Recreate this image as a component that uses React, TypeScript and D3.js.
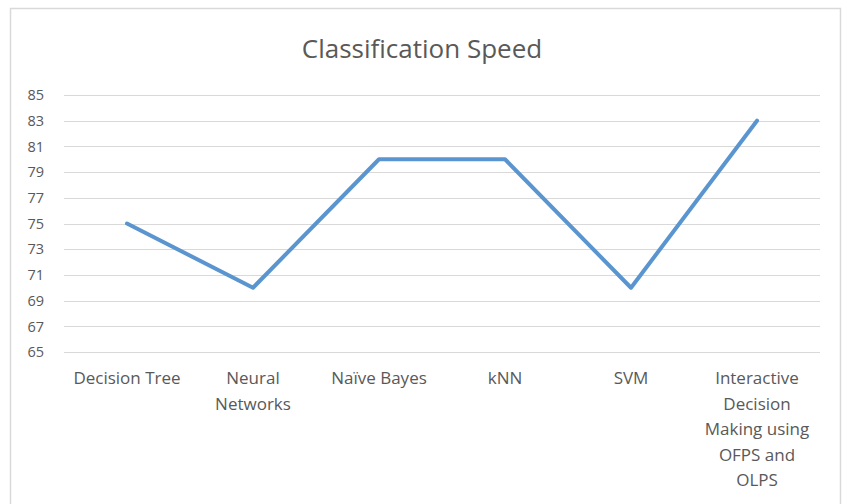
import React from "react";
import * as d3 from "d3";

const categories = [
  ["Decision Tree"],
  ["Neural", "Networks"],
  ["Naïve Bayes"],
  ["kNN"],
  ["SVM"],
  ["Interactive", "Decision", "Making using", "OFPS and", "OLPS"],
];
const speedValues = [75, 70, 80, 80, 70, 83];
const yTicks = [65, 67, 69, 71, 73, 75, 77, 79, 81, 83, 85];
const chartTitle = "Classification Speed";

const W = 844;
const H = 504;
const FONT = "'Open Sans', 'Noto Sans', sans-serif";

export default function App() {
  const left = 64;
  const right = 820;
  const top = 95;
  const bottom = 352;

  const x = d3
    .scaleBand<number>()
    .domain(d3.range(categories.length))
    .range([left, right]);
  const y = d3.scaleLinear().domain([65, 85]).range([bottom, top]);

  const line = d3
    .line<number>()
    .x((_, i) => (x(i) as number) + x.bandwidth() / 2)
    .y((v) => y(v));

  return (
    <svg
      width={W}
      height={H}
      style={{ position: "absolute", left: 0, top: 0, background: "#fff" }}
    >
      <rect
        x={10.5}
        y={8.5}
        width={830}
        height={H}
        fill="#fff"
        stroke="#d9d9d9"
        strokeWidth={1.5}
      />
      <text
        x={422}
        y={58}
        textAnchor="middle"
        fontFamily={FONT}
        fontSize={26}
        fill="#595959"
      >
        {chartTitle}
      </text>
      {yTicks.map((t) => (
        <g key={t}>
          <line
            x1={left}
            x2={right}
            y1={Math.round(y(t)) + 0.5}
            y2={Math.round(y(t)) + 0.5}
            stroke="#d9d9d9"
            strokeWidth={1}
          />
          <text
            x={44}
            y={y(t)}
            dy="0.36em"
            textAnchor="end"
            fontFamily={FONT}
            fontSize={14.5}
            fill="#595959"
          >
            {t}
          </text>
        </g>
      ))}
      <path
        d={line(speedValues) ?? ""}
        fill="none"
        stroke="#5b95cf"
        strokeWidth={4}
        strokeLinejoin="round"
        strokeLinecap="round"
      />
      {categories.map((lines, i) => (
        <text
          key={i}
          x={(x(i) as number) + x.bandwidth() / 2}
          y={384}
          textAnchor="middle"
          fontFamily={FONT}
          fontSize={17}
          fill="#595959"
        >
          {lines.map((l, j) => (
            <tspan key={j} x={(x(i) as number) + x.bandwidth() / 2} dy={j === 0 ? 0 : 25.5}>
              {l}
            </tspan>
          ))}
        </text>
      ))}
    </svg>
  );
}
